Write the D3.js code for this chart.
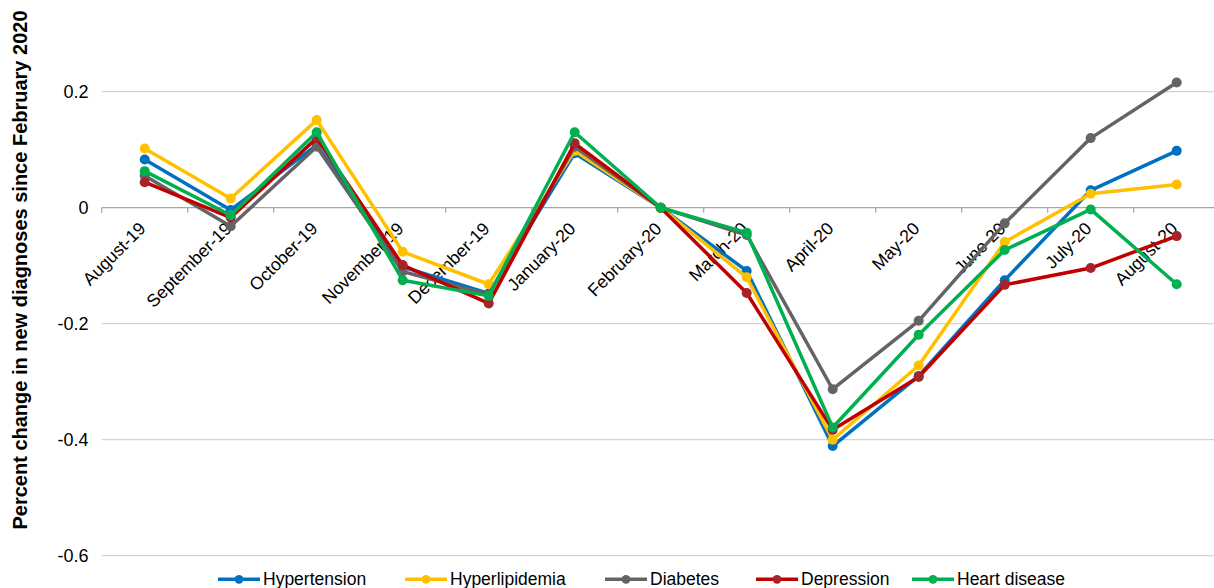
<!DOCTYPE html>
<html>
<head>
<meta charset="utf-8">
<script src="https://cdn.jsdelivr.net/npm/d3@7"></script>
<style>
  html, body { margin: 0; padding: 0; background: #fff; }
  svg { display: block; font-family: "Liberation Sans", Arial, sans-serif; }
</style>
</head>
<body>
<svg id="chart" width="1214" height="588"></svg>
<script>
const categories = ["August-19","September-19","October-19","November-19","December-19","January-20","February-20","March-20","April-20","May-20","June-20","July-20","August-20"];
const seriesNames = ["Hypertension","Hyperlipidemia","Diabetes","Depression","Heart disease"];
const hypertension   = [0.083, -0.004, 0.108, -0.102, -0.148, 0.094, 0, -0.109, -0.411, -0.290, -0.125, 0.030, 0.098];
const hyperlipidemia = [0.102,  0.016, 0.151, -0.076, -0.132, 0.098, 0, -0.120, -0.400, -0.272, -0.059, 0.024, 0.040];
const diabetes       = [0.055, -0.032, 0.105, -0.110, -0.150, 0.105, 0, -0.047, -0.313, -0.195, -0.027, 0.120, 0.216];
const depression     = [0.044, -0.017, 0.120, -0.099, -0.165, 0.111, 0, -0.147, -0.383, -0.292, -0.133, -0.104, -0.049];
const heartDisease   = [0.063, -0.013, 0.130, -0.125, -0.152, 0.130, 0, -0.043, -0.379, -0.219, -0.073, -0.003, -0.132];
const yTicks = [-0.6, -0.4, -0.2, 0, 0.2];
const yTitle = "Percent change in new diagnoses since February 2020";

const seriesValues = [hypertension, hyperlipidemia, diabetes, depression, heartDisease];
const lineColors   = ["#0070C0", "#FFC000", "#646464", "#C00000", "#00B050"];
const markerColors = ["#0070C0", "#FFC000", "#646464", "#A52329", "#00B050"];
const legendX      = [218, 405, 605, 756, 912];

const svg = d3.select("#chart");
const W = 1214, H = 588;
svg.append("rect").attr("width", W).attr("height", H).attr("fill", "#fff");

const x = d3.scaleBand().domain(categories).range([101.7, 101.7 + 86 * 13]).padding(0);
const y = d3.scaleLinear().domain([-0.6, 0.3]).range([555.7, 33.7]);
const cx = c => x(c) + x.bandwidth() / 2;

// gridlines
const grid = svg.append("g");
grid.selectAll("line").data(yTicks.filter(d => d !== 0)).join("line")
  .attr("x1", 101.7).attr("x2", W)
  .attr("y1", d => y(d)).attr("y2", d => y(d))
  .attr("stroke", "#D4D4D4").attr("stroke-width", 1.2);

// y tick labels
const fmt = d => d === 0 ? "0" : d3.format(".1f")(d).replace("\u2212", "-");
svg.append("g").selectAll("text").data(yTicks).join("text")
  .attr("x", 88.5).attr("y", d => y(d)).attr("dy", "0.36em")
  .attr("text-anchor", "end").attr("font-size", 18).attr("fill", "#000")
  .text(fmt);

// zero axis with ticks
const xAxisG = svg.append("g").attr("transform", `translate(0,${y(0)})`)
  .call(d3.axisBottom(x).tickSize(0).tickFormat(""));
xAxisG.select(".domain").remove();
xAxisG.append("line").attr("x1", 101.7).attr("x2", W).attr("y1", 0).attr("y2", 0)
  .attr("stroke", "#A6A6A6").attr("stroke-width", 1.3);
xAxisG.selectAll(".bnd").data(d3.range(14)).join("line").attr("class", "bnd")
  .attr("x1", i => x.range()[0] + i * x.step()).attr("x2", i => x.range()[0] + i * x.step())
  .attr("y1", 0).attr("y2", 5).attr("stroke", "#A6A6A6").attr("stroke-width", 1.2);

// x labels
svg.append("g").selectAll("text").data(categories).join("text")
  .attr("transform", c => `translate(${cx(c) + 2},${y(0) + 22}) rotate(-45)`)
  .attr("text-anchor", "end").attr("font-size", 17.6).attr("fill", "#000")
  .text(c => c);

// lines
const line = d3.line().x((d, i) => cx(categories[i])).y(d => y(d));
seriesValues.forEach((vals, s) => {
  const g = svg.append("g");
  g.append("path").datum(vals).attr("d", line)
    .attr("fill", "none").attr("stroke", lineColors[s]).attr("stroke-width", 3.5)
    .attr("stroke-linejoin", "round");
  g.selectAll("circle").data(vals).join("circle")
    .attr("cx", (d, i) => cx(categories[i])).attr("cy", d => y(d)).attr("r", 5)
    .attr("fill", markerColors[s]);
});

// y title
svg.append("text")
  .attr("transform", "translate(27,270) rotate(-90)")
  .attr("text-anchor", "middle").attr("font-size", 20).attr("font-weight", "bold")
  .attr("fill", "#000").text(yTitle);

// legend
const leg = svg.append("g");
seriesNames.forEach((name, s) => {
  const lx = legendX[s], ly = 579.3;
  leg.append("line").attr("x1", lx).attr("x2", lx + 42).attr("y1", ly).attr("y2", ly)
    .attr("stroke", lineColors[s]).attr("stroke-width", 3.5);
  leg.append("circle").attr("cx", lx + 21).attr("cy", ly).attr("r", 4.4).attr("fill", markerColors[s]);
  leg.append("text").attr("x", lx + 45).attr("y", 584.5).attr("font-size", 17.5)
    .attr("fill", "#000").text(name);
});
</script>
</body>
</html>
